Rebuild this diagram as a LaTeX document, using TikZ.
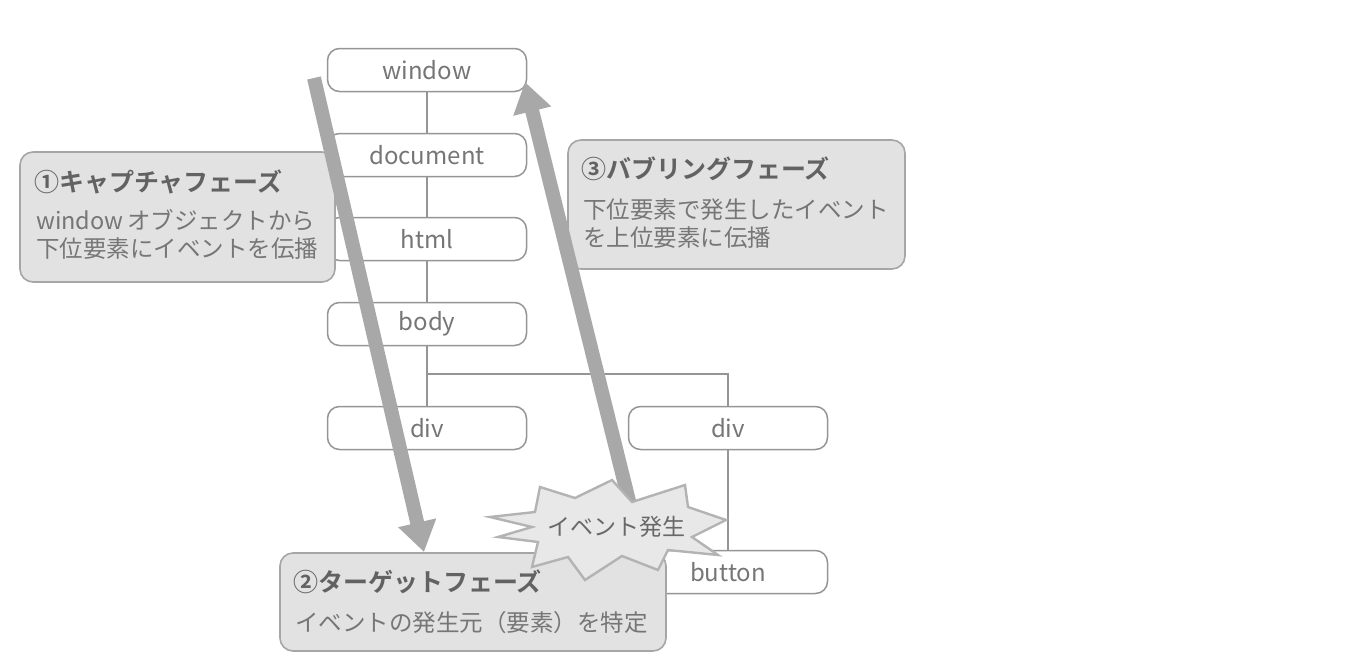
\documentclass[tikz,border=0pt]{standalone}
\usepackage{fontspec}
\setmainfont{Noto Sans CJK JP}[BoldFont={Noto Sans CJK JP Bold}]
\usetikzlibrary{arrows.meta}
\definecolor{treeline}{HTML}{959595}
\definecolor{treetext}{HTML}{767676}
\definecolor{boxfill}{HTML}{E2E2E2}
\definecolor{boxline}{HTML}{A6A6A6}
\definecolor{flow}{HTML}{A8A8A8}
\definecolor{titletext}{HTML}{626262}
\definecolor{bursttext}{HTML}{686868}

\begin{document}
\begin{tikzpicture}[x=1pt,y=-1pt,
  elem/.style={draw=treeline,line width=1.5pt,rounded corners=12pt,fill=white,minimum width=199pt,minimum height=43pt,inner sep=0pt,text=treetext,font=\fontsize{24}{28}\selectfont},
  phase/.style={draw=boxline,line width=1.6pt,fill=boxfill,rounded corners=13pt},
  phasetitle/.style={anchor=base west,inner sep=0pt,text=titletext,font=\fontsize{25}{28}\selectfont\bfseries},
  phasetext/.style={anchor=base west,inner sep=0pt,text=treetext,font=\fontsize{23.5}{28}\selectfont},
  flowarrow/.style={draw=flow,line width=14pt,-{Triangle[length=30pt,width=37pt]}}]
  \useasboundingbox (0,0) rectangle (1354,664);
  % DOM tree
  \node[elem] (window) at (427,70) {window};
  \node[elem] (document) at (427,155) {document};
  \node[elem] (html) at (427,239) {html};
  \node[elem] (body) at (427,324) {body};
  \node[elem] (divL) at (427,428) {div};
  \node[elem] (divR) at (728,428) {div};
  \coordinate (fork) at (427,374);
  \draw[treeline,line width=1.5pt] (window) -- (document) (document) -- (html) (html) -- (body) (body) -- (divL);
  \draw[treeline,line width=1.5pt] (fork) -| (divR);
  \node[elem] (button) at (728,572) {button};
  \draw[treeline,line width=1.5pt] (divR) -- (button);
  % phase boxes
  \node[phase,minimum width=315pt,minimum height=130pt] (capture) at (177.5,217) {};
  \node[phasetitle] (captureT) at (34,191) {①キャプチャフェーズ};
  \node[phasetext] (captureA) at (36,229) {window\,オブジェクトから};
  \node[phasetext] (captureB) at (36,257) {下位要素にイベントを伝播};
  \node[phase,minimum width=337pt,minimum height=129pt] (bubble) at (736.5,204.5) {};
  \node[phasetitle] (bubbleT) at (581,178) {③バブリングフェーズ};
  \node[phasetext] (bubbleA) at (583,218) {下位要素で発生したイベント};
  \node[phasetext] (bubbleB) at (583,246) {を上位要素に伝播};
  % arrows
  \coordinate (capStart) at (314,78);
  \coordinate (capEnd) at (424,552);
  \coordinate (bubStart) at (630,505);
  \coordinate (bubEnd) at (525,82);
  \draw[flowarrow] (capStart) -- (capEnd);
  \draw[flowarrow] (bubStart) -- (bubEnd);
  \node[phase,minimum width=386pt,minimum height=98pt] (target) at (473,602) {};
  \node[phasetitle] (targetT) at (293,591) {②ターゲットフェーズ};
  \node[phasetext] (targetA) at (295,631) {イベントの発生元（要素）を特定};
  % burst
  \draw[draw=boxline!85,fill=boxfill!80,line width=2.4pt,line join=miter]
    (490,517) -- (535,512) -- (540,487) -- (575,498) -- (612,480) -- (632,502)
    -- (685,485) -- (688,507) -- (726,520) -- (692,537) -- (718,555) -- (668,550)
    -- (658,570) -- (622,556) -- (585,580) -- (568,557) -- (532,567) -- (538,542)
    -- (498,537) -- (532,527) -- cycle;
  \node[inner sep=0pt,text=bursttext,font=\fontsize{23}{26}\selectfont] (event) at (616,527) {イベント発生};
\end{tikzpicture}
\end{document}
